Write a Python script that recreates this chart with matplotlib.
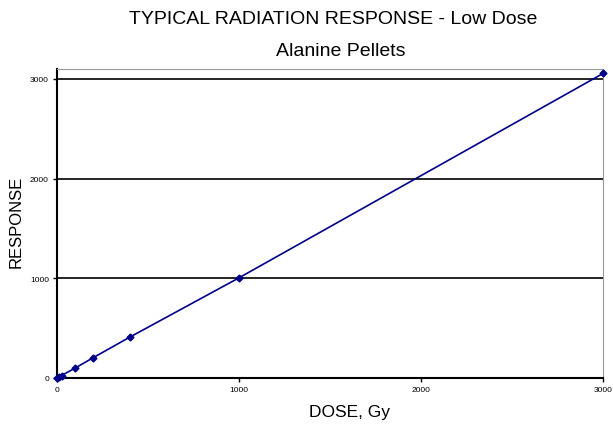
import matplotlib
matplotlib.use("Agg")
import matplotlib.pyplot as plt

plt.rcParams['font.family'] = ['Liberation Sans', 'DejaVu Sans']

dose = [0, 10, 25, 100, 200, 400, 1000, 3000]
response = [0, 10, 25, 100, 205, 410, 1005, 3055]
xticks = [0, 1000, 2000, 3000]
yticks = [0, 1000, 2000, 3000]

W, H = 613, 431
fig = plt.figure(figsize=(W / 100, H / 100), dpi=100)
ax = fig.add_axes([57 / W, 1 - 379 / H, 546 / W, 309 / H])
ax.plot(dose, response, color='#00008B', lw=1.2, marker='D', ms=3.5, zorder=3, clip_on=False)
ax.set_xlim(0, 3000)
ax.set_ylim(0, 3100)
ax.set_xticks(xticks)
ax.set_yticks(yticks)
ax.tick_params(labelsize=6, length=2.8, width=1, colors='black', pad=3)
for y in yticks[1:]:
    ax.axhline(y, color='black', lw=1.2, zorder=1)
ax.spines['left'].set_linewidth(1.5)
ax.spines['bottom'].set_linewidth(1.5)
ax.spines['top'].set_color('#999999')
ax.spines['right'].set_color('#999999')
ax.set_xlabel('DOSE, Gy', fontsize=12.5)
ax.set_ylabel('RESPONSE', fontsize=12)
ax.xaxis.set_label_coords(0.535, -0.083)
ax.yaxis.set_label_coords(-0.062, 0.508)
fig.text(333 / W, 1 - 24 / H, 'TYPICAL RADIATION RESPONSE - Low Dose', ha='center', va='baseline', fontsize=14)
fig.text(341 / W, 1 - 56 / H, 'Alanine Pellets', ha='center', va='baseline', fontsize=14)
fig.savefig('out.png', dpi=100)
